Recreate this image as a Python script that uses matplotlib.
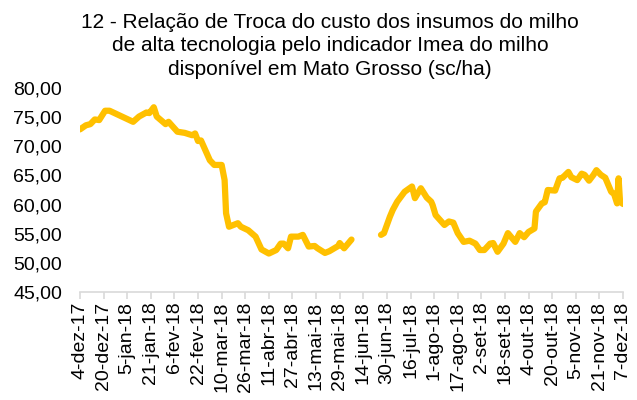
import numpy as np
import pandas as pd
import matplotlib
matplotlib.use("Agg")
import matplotlib.pyplot as plt
from matplotlib.ticker import FuncFormatter

plt.rcParams['font.family'] = ['Liberation Sans', 'DejaVu Sans']

start = pd.Timestamp("2017-12-04")
end = pd.Timestamp("2018-12-07")

# days since 4-dez-17 and exchange ratio (sc/ha); NaN = no quote
days = [0, 4, 7, 10, 13, 17, 20, 36, 40, 45, 47, 50, 52, 58, 60, 66, 71, 76, 78, 80,
        82, 88, 91, 96, 98, 99, 101, 107, 109, 114, 119, 123, 128, 133, 136, 138, 141,
        143, 148, 151, 155, 159, 161, 166, 169, 175, 176, 179, 184,
        194,
        204, 206, 210, 212, 215, 220, 225, 227, 231, 235, 238, 239, 241, 247, 250, 253,
        256, 260, 264, 268, 271, 274, 278, 280, 283, 287, 290, 295, 298, 301, 304, 308,
        309, 313, 315, 317, 322, 325, 327, 331, 333, 337, 340, 342, 345, 348, 350, 353,
        356, 360, 362, 364, 365, 366, 368]
values = [72.9, 73.6, 73.8, 74.6, 74.5, 76.1, 76.1, 74.2, 75.1, 75.8, 75.7, 76.7, 75.1,
          73.8, 74.2, 72.5, 72.3, 71.9, 72.2, 70.9, 71.0, 67.6, 66.8, 66.8, 64.2, 58.5,
          56.2, 56.8, 56.2, 55.6, 54.5, 52.3, 51.6, 52.2, 53.3, 53.3, 52.5, 54.5, 54.5,
          54.8, 52.8, 52.9, 52.5, 51.7, 52.0, 52.9, 53.4, 52.5, 54.0,
          np.nan,
          54.8, 55.1, 57.9, 59.1, 60.5, 62.2, 63.1, 61.1, 62.8, 61.2, 60.5, 59.9, 58.2,
          56.5, 57.1, 56.9, 55.1, 53.6, 53.8, 53.3, 52.2, 52.2, 53.3, 53.4, 51.9, 53.3,
          55.1, 53.6, 55.1, 54.4, 55.3, 55.9, 58.8, 60.2, 60.4, 62.5, 62.4, 64.5, 64.6,
          65.6, 64.7, 64.2, 65.3, 65.1, 64.1, 65.1, 65.9, 65.1, 64.6, 62.2, 61.8, 60.2,
          64.5, 60.5, 60.1]

dates = start + pd.to_timedelta(days, unit="D")
tick_dates = pd.date_range(start, end, freq="16D")
meses = ["jan", "fev", "mar", "abr", "mai", "jun", "jul", "ago", "set", "out", "nov", "dez"]
tick_labels = [f"{d.day}-{meses[d.month - 1]}-{d.strftime('%y')}" for d in tick_dates]

fig = plt.figure(figsize=(6.37, 4.0), dpi=100)
ax = fig.add_axes([0.1256, 0.27, 0.8524, 0.51])

ax.plot(dates, values, color="#FFC000", linewidth=4.5, solid_joinstyle="round",
        solid_capstyle="round")

ax.set_xlim(start, end)
ax.set_ylim(45, 80)
ax.set_yticks(np.arange(45, 81, 5))
ax.yaxis.set_major_formatter(FuncFormatter(lambda v, p: f"{v:.2f}".replace(".", ",")))
ax.set_xticks(tick_dates)
ax.set_xticklabels(tick_labels, rotation=90)

for s in ["top", "right", "left"]:
    ax.spines[s].set_visible(False)
ax.spines["bottom"].set_color("#d9d9d9")
ax.spines["bottom"].set_linewidth(1.2)
ax.tick_params(axis="x", colors="#d9d9d9", length=5, width=1.2, labelcolor="black",
               labelsize=14, pad=2)
ax.tick_params(axis="y", length=0, labelsize=14, pad=13)

fig.text(0.518, 0.967, "12 - Relação de Troca do custo dos insumos do milho\n"
         "de alta tecnologia pelo indicador Imea do milho\n"
         "disponível em Mato Grosso (sc/ha)",
         ha="center", va="top", fontsize=15, linespacing=1.28)

fig.savefig("out.png", dpi=100)
